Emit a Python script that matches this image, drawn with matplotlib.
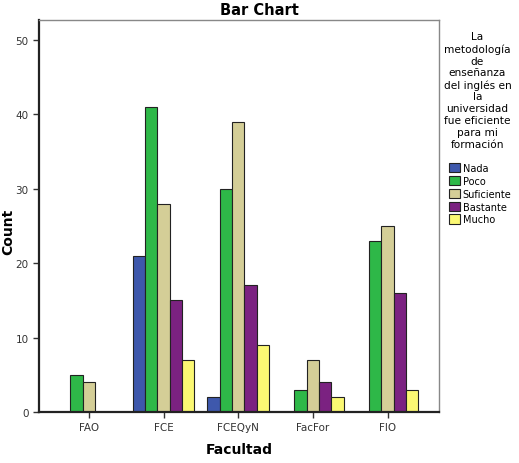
import numpy as np
import matplotlib.pyplot as plt

facultades = ['FAO', 'FCE', 'FCEQyN', 'FacFor', 'FIO']
categorias = ['Nada', 'Poco', 'Suficiente', 'Bastante', 'Mucho']
nada = [0, 21, 2, 0, 0]
poco = [5, 41, 30, 3, 23]
suficiente = [4, 28, 39, 7, 25]
bastante = [0, 15, 17, 4, 16]
mucho = [0, 7, 9, 2, 3]
series = [nada, poco, suficiente, bastante, mucho]
colores = ['#3E58AC', '#2EB848', '#D4CE97', '#7B2281', '#FBF873']

fig = plt.figure(figsize=(5.19, 4.64), dpi=100)
ax = fig.add_axes([0.075, 0.11, 0.771, 0.845])

x = np.arange(len(facultades))
w = 0.165
handles = []
for i, (vals, c) in enumerate(zip(series, colores)):
    pos = x + (i - 2) * w
    vals = np.array(vals, dtype=float)
    mask = vals > 0
    ax.bar(pos[mask], vals[mask], width=w, color=c, edgecolor='#222222', linewidth=0.8)
    handles.append(plt.Rectangle((0, 0), 1, 1, facecolor=c, edgecolor='#222222', linewidth=0.8))

ax.set_xlim(-0.67, 4.69)
ax.set_ylim(0, 52.7)
ax.set_yticks([0, 10, 20, 30, 40, 50])
ax.set_xticks(x)
ax.set_xticklabels(facultades)
ax.tick_params(axis='both', labelsize=7.5, colors='#333333', length=4, width=1)
for s in ['left', 'bottom']:
    ax.spines[s].set_linewidth(1.6)
    ax.spines[s].set_color('#222222')
for s in ['top', 'right']:
    ax.spines[s].set_linewidth(1.0)
    ax.spines[s].set_color('#888888')

ax.set_xlabel('Facultad', fontsize=10, fontweight='bold', labelpad=7)
fig.text(0.016, 0.5, 'Count', rotation=90, ha='center', va='center', fontsize=10, fontweight='bold')
fig.text(0.5, 0.977, 'Bar Chart', ha='center', va='center', fontsize=10.5, fontweight='bold')

titulo = 'La\nmetodología\nde\nenseñanza\ndel inglés en\nla\nuniversidad\nfue eficiente\npara mi\nformación'
fig.text(0.92, 0.93, titulo, ha='center', va='top', fontsize=7.6, linespacing=1.22)
leg = fig.legend(handles, categorias, loc='upper left', bbox_to_anchor=(0.865, 0.647),
                 frameon=False, fontsize=7, handlelength=1.1, handleheight=1.1,
                 handletextpad=0.3, labelspacing=0.3, borderpad=0, borderaxespad=0)

fig.savefig('out.png', dpi=100)
